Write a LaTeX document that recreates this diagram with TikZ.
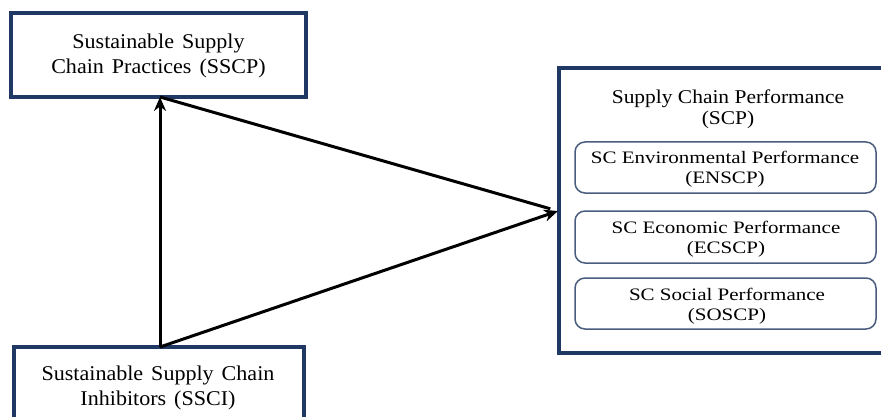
\documentclass[tikz,border=0pt]{standalone}
\usepackage{fontspec}
\setmainfont{Liberation Serif}
\usetikzlibrary{arrows.meta}
\definecolor{navy}{HTML}{1F3864}
\definecolor{slateedge}{HTML}{4A5D7E}
\newcommand\widewords{\spaceskip=8pt plus 1pt minus 1pt\relax}
\begin{document}
\begin{tikzpicture}[x=1pt,y=-1pt,
  outerbox/.style={draw=navy,line width=3.6pt,fill=white},
  innerbox/.style={draw=slateedge,line width=1.5pt,rounded corners=10pt,fill=white},
  biglabel/.style={font=\addfontfeature{FakeStretch=1.05}\fontsize{21}{25}\selectfont\widewords,align=center,inner sep=0pt},
  titlelabel/.style={font=\addfontfeature{FakeStretch=1.1}\fontsize{19.5}{21}\selectfont,align=center,inner sep=0pt},
  dimlabel/.style={font=\addfontfeature{FakeStretch=1.2}\fontsize{17.5}{20}\selectfont,align=center,inner sep=0pt},
  link/.style={line width=3pt,black},
  tip/.style={-{Stealth[length=14pt,width=12pt]}}]
\useasboundingbox (0,0) rectangle (881,417);
\begin{scope}
\clip (0,0) rectangle (881,417);
% construct boxes
\draw[outerbox] (11,13) rectangle (306,97);
\node[biglabel] (sscp) at (158.5,56) {Sustainable Supply\\Chain Practices (SSCP)};
\draw[outerbox] (14,347) rectangle (304,440);
\node[biglabel] (ssci) at (158,388) {Sustainable Supply Chain\\Inhibitors (SSCI)};
\draw[outerbox] (559,68) rectangle (900,353);
\node[titlelabel] (scp) at (728,109) {Supply Chain Performance\\(SCP)};
% performance dimensions
\draw[innerbox] (575,142) rectangle (876,193);
\node[dimlabel] (en) at (725,169) {SC Environmental Performance\\(ENSCP)};
\draw[innerbox] (575,211) rectangle (876,263);
\node[dimlabel] (ec) at (726,239) {SC Economic Performance\\(ECSCP)};
\draw[innerbox] (575,278) rectangle (876,329);
\node[dimlabel] (so) at (727,306) {SC Social Performance\\(SOSCP)};
\end{scope}
% connectors
\coordinate (top) at (160,97);
\coordinate (bot) at (160,347);
\coordinate (hub) at (558,211);
\draw[link,tip] (bot) -- (top);
\draw[link,shorten >=8pt] (top) -- (hub);
\draw[link,tip] (bot) -- (hub);
\end{tikzpicture}
\end{document}
